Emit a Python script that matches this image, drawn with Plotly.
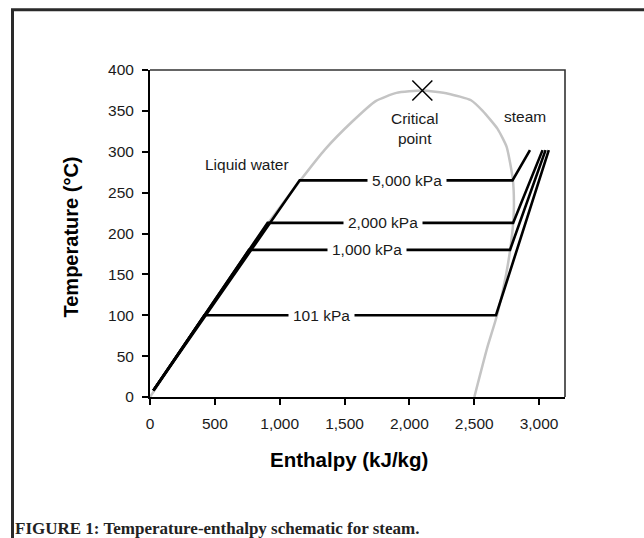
import plotly.graph_objects as go

# ---- data ----
dome_h = [0, 419, 763, 907, 1154, 1350, 1560, 1740, 1900, 2100,
          2300, 2475, 2565, 2680, 2750, 2797, 2806, 2793, 2746, 2676, 2600, 2501]
dome_t = [0, 100, 180, 212, 264, 303, 337, 362, 372, 375,
          371, 363, 350, 328, 306, 267, 232, 200, 150, 100, 60, 0]

pressures = ["101 kPa", "1,000 kPa", "2,000 kPa", "5,000 kPa"]
liq_start_h = [26, 26, 26, 26]
liq_start_t = [8, 8, 8, 8]
sat_t = [100, 180, 213, 265]
hf = [419, 763, 907, 1154]
hg = [2668, 2776, 2800, 2795]
sup_h = [3075, 3050, 3027, 2930]
sup_t = [302, 302, 302, 302]
label_h = [1322, 1672, 1794, 1980]

crit_h = [2100]
crit_t = [375]

text_labels = ["Liquid water", "Critical<br>point", "steam"]
text_h = [746, 2036, 2893]
text_t = [284, 328, 343]

x_ticks = [0, 500, 1000, 1500, 2000, 2500, 3000]
x_ticktext = ["0", "500", "1,000", "1,500", "2,000", "2,500", "3,000"]
y_ticks = [0, 50, 100, 150, 200, 250, 300, 350, 400]

FONT = "Liberation Sans, Arial, sans-serif"

fig = go.Figure()

fig.add_trace(go.Scatter(x=dome_h, y=dome_t, mode="lines",
                         line=dict(color="#c4c4c4", width=2.5,
                                   shape="spline", smoothing=0.5),
                         hoverinfo="skip", showlegend=False))

for i in range(len(pressures)):
    fig.add_trace(go.Scatter(
        x=[liq_start_h[i], hf[i], hg[i], sup_h[i]],
        y=[liq_start_t[i], sat_t[i], sat_t[i], sup_t[i]],
        mode="lines", line=dict(color="black", width=2.6),
        showlegend=False))
    fig.add_annotation(x=label_h[i], y=sat_t[i], text=pressures[i],
                       showarrow=False, bgcolor="white", borderpad=4,
                       font=dict(family=FONT, size=15.5, color="#1a1a1a"))

fig.add_trace(go.Scatter(x=crit_h, y=crit_t, mode="markers",
                         marker=dict(symbol="x-thin", size=20,
                                     line=dict(color="black", width=1.5)),
                         showlegend=False))

for t, h, tt in zip(text_labels, text_h, text_t):
    fig.add_annotation(x=h, y=tt, text=t, showarrow=False,
                       font=dict(family=FONT, size=15.5, color="#1a1a1a"))

L, R, T, B = 150, 565, 70, 397
W, H = 644, 538

def px(x):
    return (x - L) / (R - L)

def py(y):
    return (B - y) / (B - T)

# axis titles
fig.add_annotation(xref="paper", yref="paper", x=px(349), y=py(459),
                   text="<b>Enthalpy (kJ/kg)</b>", showarrow=False,
                   xanchor="center", yanchor="middle",
                   font=dict(family=FONT, size=20.5, color="black"))
fig.add_annotation(xref="paper", yref="paper", x=px(70), y=py(237.5),
                   text="<b>Temperature (°C)</b>", showarrow=False,
                   textangle=-90, xanchor="center", yanchor="middle",
                   font=dict(family=FONT, size=20, color="black"))
# caption
fig.add_annotation(xref="paper", yref="paper", x=px(13), y=py(528.5),
                   text="<b>FIGURE 1: Temperature-enthalpy schematic for steam.</b>",
                   showarrow=False, xanchor="left", yanchor="middle",
                   font=dict(family="Liberation Serif, Times New Roman, serif",
                             size=17, color="#222222"))

# outer frame (left and top edges)
fig.add_shape(type="path", xref="paper", yref="paper",
              path=f"M {px(12.5)} {py(560)} L {px(12.5)} {py(9.7)} L {px(660)} {py(9.7)}",
              line=dict(color="#2a2a2a", width=3))
# plot frame top/right
fig.add_shape(type="path", xref="paper", yref="paper",
              path=f"M 0 1 L 1 1 L 1 0",
              line=dict(color="#333333", width=1.6))

fig.update_layout(
    width=W, height=H,
    margin=dict(l=L, r=W - R, t=T, b=H - B),
    paper_bgcolor="white", plot_bgcolor="white",
    font=dict(family=FONT, size=15.5, color="#1a1a1a"),
    xaxis=dict(range=[0, 3200], tickvals=x_ticks, ticktext=x_ticktext,
               showgrid=False, zeroline=False, showline=True,
               linecolor="black", linewidth=2, ticks="outside",
               ticklen=6, tickwidth=1.5, tickcolor="black",
               ticklabelstandoff=5,
               tickfont=dict(family=FONT, size=15.5, color="#1a1a1a")),
    yaxis=dict(range=[0, 400], tickvals=y_ticks,
               showgrid=False, zeroline=False, showline=True,
               linecolor="black", linewidth=2, ticks="outside",
               ticklen=6, tickwidth=1.5, tickcolor="black",
               ticklabelstandoff=5,
               tickfont=dict(family=FONT, size=15.5, color="#1a1a1a")),
    showlegend=False,
)

fig.write_html("out.html")
